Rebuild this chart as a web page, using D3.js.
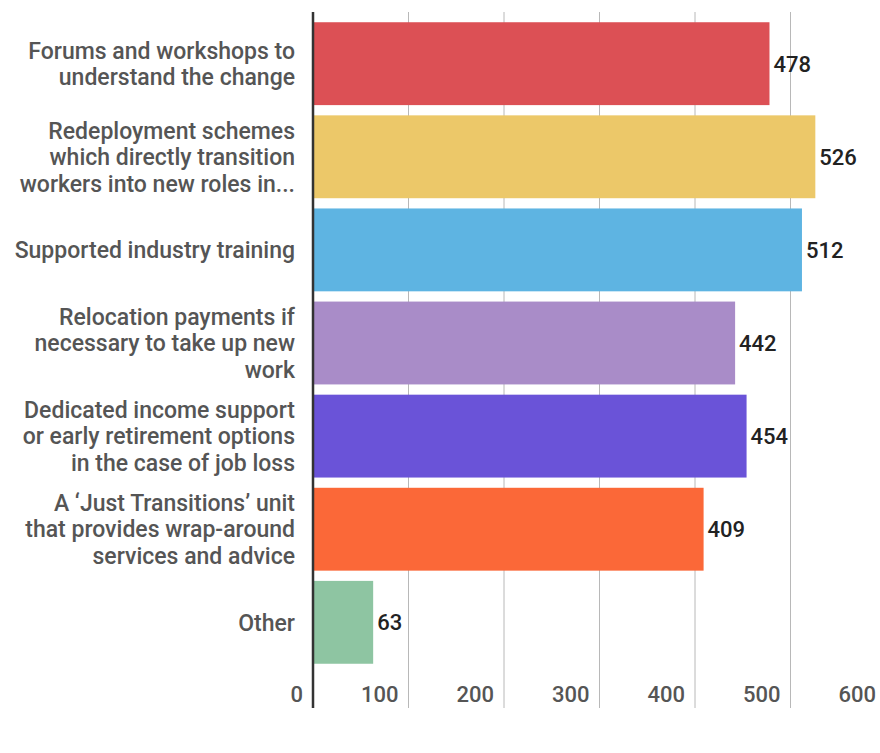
<!DOCTYPE html>
<html>
<head>
<meta charset="utf-8">
<script src="https://cdn.jsdelivr.net/npm/d3@7"></script>
<style>
  html, body { margin: 0; padding: 0; background: #fff; }
  svg { display: block; }
</style>
</head>
<body>
<svg id="chart" width="880" height="753"></svg>
<script>
// Support measures and number of responses
const categories = [
  ["Forums and workshops to", "understand the change"],
  ["Redeployment schemes", "which directly transition", "workers into new roles in..."],
  ["Supported industry training"],
  ["Relocation payments if", "necessary to take up new", "work"],
  ["Dedicated income support", "or early retirement options", "in the case of job loss"],
  ["A \u2018Just Transitions\u2019 unit", "that provides wrap-around", "services and advice"],
  ["Other"]
];
const values = [478, 526, 512, 442, 454, 409, 63];
const colors = ["#dc5055", "#ecc869", "#5eb4e2", "#a98cc8", "#6a53d8", "#fb6838", "#8ec5a2"];
const tickValues = [0, 100, 200, 300, 400, 500, 600];

const svg = d3.select("#chart");
const font = "Roboto, 'Noto Sans', sans-serif";

const x = d3.scaleLinear().domain([0, 600]).range([313, 886]);
const y = d3.scaleBand()
  .domain(d3.range(categories.length))
  .range([12, 674])
  .paddingInner(0.11)
  .paddingOuter(0.11);

const plotTop = 12, plotBottom = 708;

// vertical gridlines
svg.append("g")
  .selectAll("line")
  .data(tickValues.filter(d => d > 0))
  .join("line")
  .attr("x1", d => x(d)).attr("x2", d => x(d))
  .attr("y1", plotTop).attr("y2", plotBottom)
  .attr("stroke", "#b8b8b8")
  .attr("stroke-width", 1);

// bars
svg.append("g")
  .selectAll("rect")
  .data(values)
  .join("rect")
  .attr("x", x(0))
  .attr("y", (d, i) => y(i))
  .attr("width", d => x(d) - x(0))
  .attr("height", y.bandwidth())
  .attr("fill", (d, i) => colors[i]);

// baseline axis
svg.append("line")
  .attr("x1", x(0)).attr("x2", x(0))
  .attr("y1", plotTop).attr("y2", plotBottom)
  .attr("stroke", "#333")
  .attr("stroke-width", 2.5);

// value labels
svg.append("g")
  .selectAll("text")
  .data(values)
  .join("text")
  .attr("x", d => x(d) + 4)
  .attr("y", (d, i) => y(i) + y.bandwidth() / 2)
  .attr("dy", "0.36em")
  .attr("font-family", font)
  .attr("font-size", 22)
  .attr("font-weight", 500)
  .attr("fill", "#222")
  .text(d => d);

// category labels
const lineH = 26.5;
const catG = svg.append("g");
categories.forEach((lines, i) => {
  const cy = y(i) + y.bandwidth() / 2;
  const t = catG.append("text")
    .attr("x", 295)
    .attr("text-anchor", "end")
    .attr("font-family", font)
    .attr("font-size", 23)
    .attr("font-weight", 500)
    .attr("fill", "#555");
  lines.forEach((ln, k) => {
    t.append("tspan")
      .attr("x", 295)
      .attr("y", cy + (k - (lines.length - 1) / 2) * lineH)
      .attr("dy", "0.36em")
      .text(ln);
  });
});

// x tick labels, right-aligned just left of each gridline
svg.append("g")
  .selectAll("text")
  .data(tickValues)
  .join("text")
  .attr("x", d => x(d) - 10)
  .attr("y", 694)
  .attr("dy", "0.36em")
  .attr("text-anchor", "end")
  .attr("font-family", font)
  .attr("font-size", 22)
  .attr("font-weight", 500)
  .attr("fill", "#555")
  .text(d => d);
</script>
</body>
</html>
